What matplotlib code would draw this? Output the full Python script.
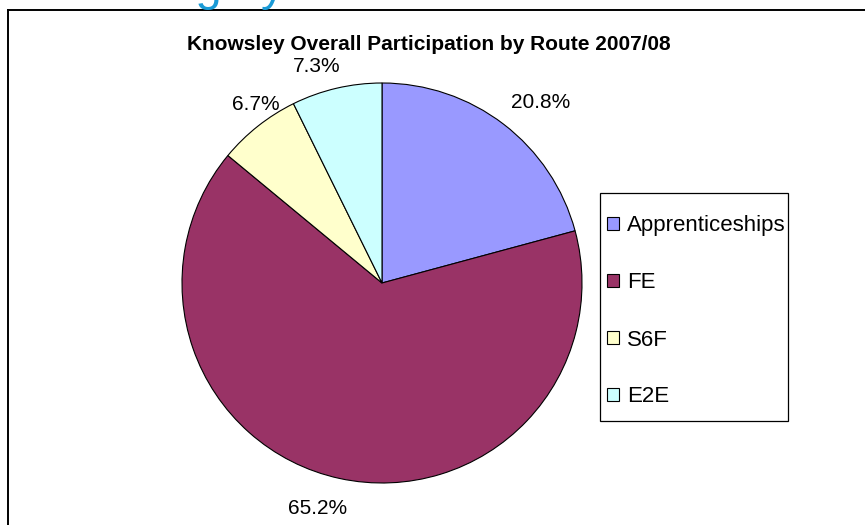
import matplotlib
matplotlib.use("Agg")
import matplotlib.pyplot as plt
import numpy as np
from matplotlib.patches import Rectangle
from matplotlib.lines import Line2D

plt.rcParams['font.family'] = ['Liberation Sans', 'DejaVu Sans']

title = "Knowsley Overall Participation by Route 2007/08"
slide_title = "Learning by Route"
categories = ["Apprenticeships", "FE", "S6F", "E2E"]
values = [20.8, 65.2, 6.7, 7.3]
colors = ["#9999FF", "#993366", "#FFFFCC", "#CCFFFF"]
label_dist = [1.21, 1.16, 1.11, 1.13]
label_shift_px = [(12, 12), (-15, -1), (12, -4), (-14, 4)]

W, H = 865, 525
fig = plt.figure(figsize=(W / 100, H / 100), dpi=100)

def fx(px):
    return px / W

def fy(py):
    return 1 - py / H

# slide title partially cut off at the top
fig.text(fx(38), fy(0), slide_title, color="#1a9ad6", fontsize=34,
         ha="left", va="baseline")

# chart area border (left and top visible)
fig.add_artist(Line2D([fx(8), fx(8)], [fy(9.5), 0], color="black", lw=1.4,
                      transform=fig.transFigure))
fig.add_artist(Line2D([fx(8), 1], [fy(9.5), fy(9.5)], color="black", lw=1.4,
                      transform=fig.transFigure))

# pie axes: center (382,283), radius 200 px
cx, cy, r = 382, 283, 200
ax = fig.add_axes([fx(cx - r), fy(cy + r), 2 * r / W, 2 * r / H])
wedges, texts, autotexts = ax.pie(
    values, colors=colors, startangle=90, counterclock=False,
    autopct="%.1f%%", pctdistance=1.15, radius=1,
    wedgeprops=dict(edgecolor="black", linewidth=0.8),
    textprops=dict(fontsize=15, color="black"))
for w, t, d, (sx, sy) in zip(wedges, autotexts, label_dist, label_shift_px):
    ang = np.deg2rad((w.theta1 + w.theta2) / 2)
    t.set_position((d * np.cos(ang) + sx / r, d * np.sin(ang) - sy / r))
ax.set_xlim(-1, 1)
ax.set_ylim(-1, 1)
ax.set_aspect("equal")
ax.axis("off")

fig.text(fx(429), fy(44), title, fontsize=15, fontweight="bold",
         ha="center", va="center")

# legend
fig.add_artist(Rectangle((fx(600), fy(421)), fx(788) - fx(600), fy(193) - fy(421),
                         transform=fig.transFigure, fill=False,
                         edgecolor="black", lw=0.9))
leg = fig.legend(wedges, categories, loc="center left",
                 bbox_to_anchor=(fx(607), fy(311.5)), frameon=False,
                 fontsize=16, handlelength=0.55, handleheight=0.55,
                 handletextpad=0.36, labelspacing=1.62, borderpad=0,
                 borderaxespad=0)

fig.savefig("out.png", dpi=100)
